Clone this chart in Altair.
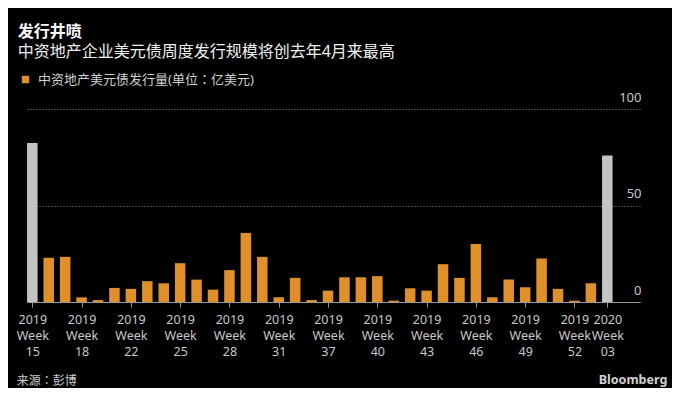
import json
import altair as alt
import pandas as pd

# ---- data ----
week_labels = [
    "2019 Week 15", "2019 Week 16", "2019 Week 17", "2019 Week 18", "2019 Week 19",
    "2019 Week 21", "2019 Week 22", "2019 Week 23", "2019 Week 24", "2019 Week 25",
    "2019 Week 26", "2019 Week 27", "2019 Week 28", "2019 Week 29", "2019 Week 30",
    "2019 Week 31", "2019 Week 32", "2019 Week 34", "2019 Week 37", "2019 Week 38",
    "2019 Week 39", "2019 Week 40", "2019 Week 41", "2019 Week 42", "2019 Week 43",
    "2019 Week 44", "2019 Week 45", "2019 Week 46", "2019 Week 47", "2019 Week 48",
    "2019 Week 49", "2019 Week 50", "2019 Week 51", "2019 Week 52", "2020 Week 02",
    "2020 Week 03",
]
issuance = [
    82.4, 22.9, 23.4, 2.4, 1.0, 7.3, 6.8, 10.8, 9.7, 20.1,
    11.6, 6.4, 16.5, 35.8, 23.4, 2.4, 12.5, 1.0, 5.9, 12.8,
    12.8, 13.4, 0.7, 7.1, 5.9, 19.6, 12.5, 30.0, 2.4, 11.6,
    7.6, 22.6, 6.8, 0.7, 9.7, 75.9,
]
highlight_weeks = ["2019 Week 15", "2020 Week 03"]
tick_weeks = [
    "2019 Week 15", "2019 Week 18", "2019 Week 22", "2019 Week 25", "2019 Week 28",
    "2019 Week 31", "2019 Week 37", "2019 Week 40", "2019 Week 43", "2019 Week 46",
    "2019 Week 49", "2019 Week 52", "2020 Week 03",
]
y_ticks = [0, 50, 100]

series_name = "中资地产美元债发行量(单位：亿美元)"
other_name = "其他"
title_text = "发行井喷"
subtitle_text = "中资地产企业美元债周度发行规模将创去年4月来最高"
source_text = "来源：彭博"
brand_text = "Bloomberg"

ORANGE = "#e0902a"
GRAY = "#c4c4c4"
FONT = "Noto Sans, Noto Sans CJK SC"
FONT_TC = "Noto Sans, Noto Sans CJK TC"

df = pd.DataFrame({"week": week_labels, "value": issuance})
df["idx"] = range(len(df))
df["series"] = [other_name if w in highlight_weeks else series_name for w in week_labels]

tick_idx = [week_labels.index(w) for w in tick_weeks]
labels_js = json.dumps(week_labels, ensure_ascii=False)

W, H = 613, 193

bars = alt.Chart(df).transform_calculate(
    x0="datum.idx - 0.32", x1="datum.idx + 0.32"
).mark_bar().encode(
    x=alt.X(
        "x0:Q",
        scale=alt.Scale(domain=[-0.323, 36.99], nice=False, zero=False),
        axis=alt.Axis(
            values=tick_idx,
            labelExpr=f"split({labels_js}[round(datum.value)], ' ')",
            title=None,
            grid=False,
            domainColor="#999999",
            tickColor="#999999",
            tickSize=5,
            labelColor="#c8c8c8",
            labelFont=FONT,
            labelFontSize=12.5,
            labelLineHeight=16,
            labelPadding=6,
            labelFlush=False,
            labelOverlap=False,
            domainWidth=1,
            zindex=2,
        ),
    ),
    x2="x1:Q",
    y=alt.Y(
        "value:Q",
        scale=alt.Scale(domain=[0, 100], nice=False),
        axis=alt.Axis(
            orient="right",
            values=y_ticks,
            title=None,
            domain=False,
            ticks=False,
            grid=True,
            gridDash=[1, 2],
            gridColor="#8a8a8a",
            gridWidth=1,
            labelAlign="right",
            labelBaseline="alphabetic",
            labelOffset=-8,
            labelPadding=1,
            labelColor="#c8c8c8",
            labelFont=FONT,
            labelFontSize=13,
        ),
    ),
    y2=alt.datum(0),
    color=alt.Color(
        "series:N",
        scale=alt.Scale(domain=[series_name, other_name], range=[ORANGE, GRAY]),
        legend=alt.Legend(
            values=[series_name],
            title=None,
            orient="none",
            legendX=-8,
            legendY=-36,
            symbolType="square",
            symbolSize=55,
            symbolStrokeWidth=0,
            symbolOpacity=1,
            labelColor="#d0d0d0",
            labelFont=FONT_TC,
            labelFontSize=13,
            labelOffset=6,
            labelLimit=0,
            padding=0,
        ),
    ),
)


def text_layer(txt, x, y, size, color, weight="normal", align="left", font=FONT):
    return alt.Chart(alt.Data(values=[{}])).mark_text(
        text=txt, font=font, fontSize=size, fontWeight=weight, color=color,
        align=align, baseline="alphabetic",
    ).encode(x=alt.value(x), y=alt.value(y))


title = text_layer(title_text, -9.3, -72.5, 16, "#ffffff", weight="bold")
subtitle = text_layer(subtitle_text, -9.3, -52.5, 16, "#f0f0f0")
source = text_layer(source_text, -10.3, 276, 12, "#cccccc", font=FONT_TC)
brand = text_layer(brand_text, 640.3, 275, 12.5, "#d0d0d0", weight="bold", align="right")

chart = alt.layer(bars, title, subtitle, source, brand).properties(
    width=W,
    height=H,
    autosize=alt.AutoSizeParams(type="none"),
    padding={"left": 19, "top": 101, "right": 32, "bottom": 86},
    background="#000000",
).configure_view(stroke=None).configure_legend(padding=0)

chart.save("out.html", embed_options={"renderer": "svg", "actions": False})
